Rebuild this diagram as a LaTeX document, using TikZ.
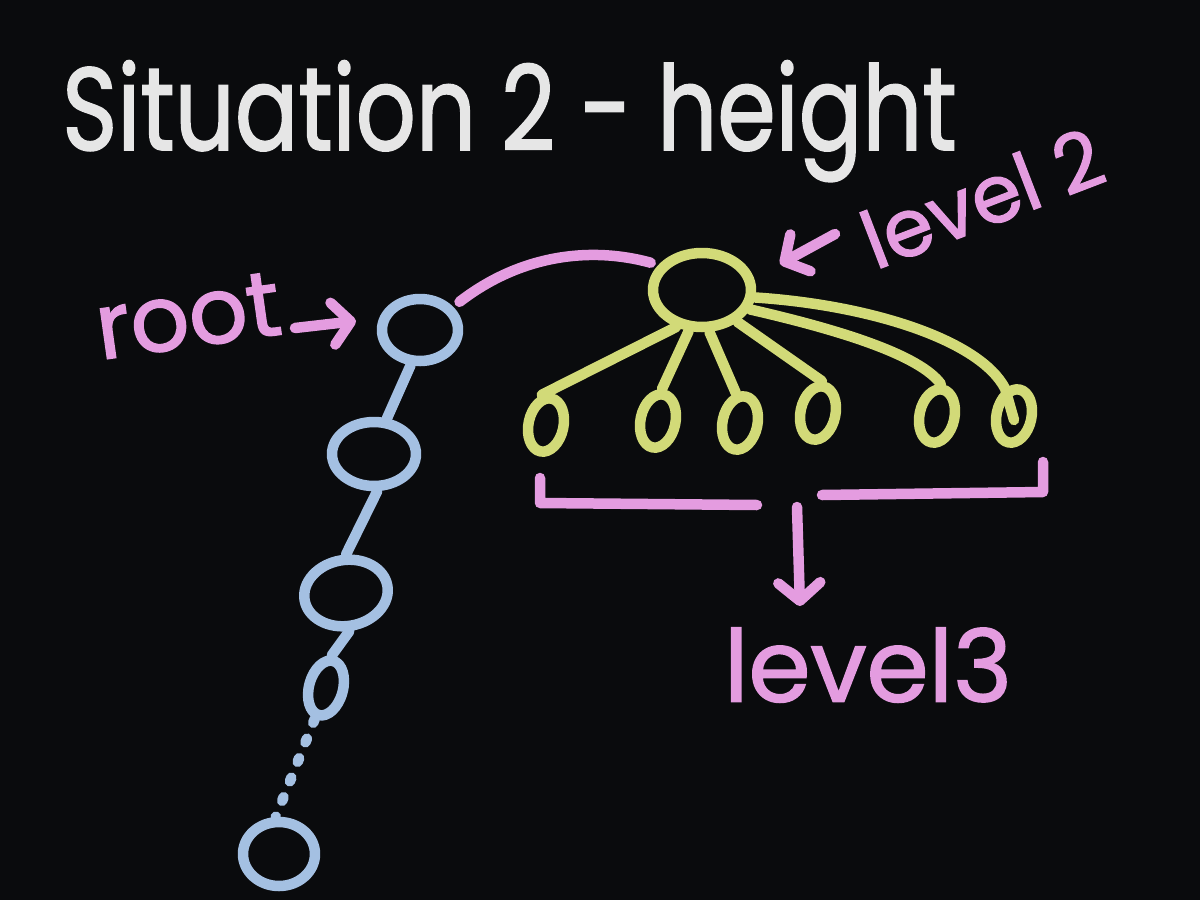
\documentclass[tikz,border=0pt]{standalone}
\usepackage{fontspec}
\setmainfont{Poppins}
\newfontfamily\hand{Poppins}[FakeBold=1.6]
\usetikzlibrary{shapes.geometric,arrows.meta}
\definecolor{bg}{HTML}{0A0B0D}
\definecolor{chalkpink}{RGB}{228,156,224}
\definecolor{chalkblue}{RGB}{164,192,226}
\definecolor{chalkyellow}{RGB}{210,218,120}
\definecolor{chalkwhite}{RGB}{230,230,230}
\begin{document}
\begin{tikzpicture}[x=1pt,y=-1pt,
  stroke/.style={line width=10.5pt,line cap=round,line join=round},
  bnode/.style={ellipse,draw=chalkblue,stroke,inner sep=0pt},
  ynode/.style={ellipse,draw=chalkyellow,stroke,inner sep=0pt},
  ychild/.style={ynode,minimum width=35pt,minimum height=54pt,rotate=-12},
  bline/.style={draw=chalkblue,stroke},
  yline/.style={draw=chalkyellow,stroke},
  pline/.style={draw=chalkpink,stroke},
  parrow/.style={pline,-{Straight Barb[round,length=18pt,width=42pt]}},
  ptext/.style={text=chalkpink,inner sep=0pt},
]
\fill[bg] (0,0) rectangle (1200,900);
\useasboundingbox (0,0) rectangle (1200,900);

% title
\node[anchor=base west,text=chalkwhite,inner sep=0pt,font=\hand\fontsize{94}{94}\selectfont] (title) at (62,150) {\scalebox{1}[1.25]{Situation 2 - height}};

% blue chain
\node[bnode,minimum width=76pt,minimum height=62pt] (root) at (420,330) {};
\node[bnode,minimum width=84pt,minimum height=64pt] (b2) at (374,454) {};
\node[bnode,minimum width=84pt,minimum height=66pt,rotate=10] (b3) at (346,593) {};
\node[bnode,minimum width=34pt,minimum height=56pt,rotate=-15] (b4) at (326,688) {};
\node[bnode,minimum width=72pt,minimum height=64pt] (b5) at (279,854) {};
\draw[bline] (root.255) -- (b2.70);
\draw[bline] (b2.275) -- (b3.80);
\draw[bline] (b3.265) -- (b4.95);
\draw[bline,dash pattern=on 4pt off 17pt] (b4.265) -- (b5.95);

% yellow tree
\node[ynode,minimum width=98pt,minimum height=74pt] (l2) at (702,290) {};
\node[ychild] (c1) at (546,425) {};
\node[ychild] (c2) at (658,421) {};
\node[ychild] (c3) at (740,423) {};
\node[ychild] (c4) at (818,413) {};
\node[ychild] (c5) at (937,416) {};
\node[ychild] (c6) at (1014,416) {};
\draw[yline] (l2.235) -- (c1.110);
\draw[yline] (l2.252) -- (c2.95);
\draw[yline] (l2.280) -- (c3.110);
\draw[yline] (l2.318) -- (c4.95);
\draw[yline] (l2.338) .. controls (840,330) and (920,355) .. (c5.95);
\draw[yline] (l2.352) .. controls (870,305) and (980,340) .. (c6.120) -- (1014,420);

% pink link root -> level 2
\draw[pline,shorten <=8pt,shorten >=8pt] (root.35) .. controls (520,255) and (590,246) .. (l2.150);

% labels
\node[ptext,font=\hand\fontsize{92}{92}\selectfont,rotate=8] (rootlbl) at (188,316) {root};
\coordinate (ra) at (295,328);
\coordinate (rb) at (356,321);
\draw[parrow] (ra) -- (rb);

\node[ptext,font=\hand\fontsize{80}{80}\selectfont,rotate=21] (lvl2) at (982,198) {level 2};
\coordinate (la) at (835,234);
\coordinate (lb) at (780,264);
\draw[parrow] (la) -- (lb);

% bracket and level 3
\coordinate (k1) at (540,478);
\coordinate (k2) at (540,503);
\coordinate (k3) at (757,505);
\coordinate (k4) at (822,495);
\coordinate (k5) at (1043,492);
\coordinate (k6) at (1043,462);
\draw[pline] (k1) -- (k2) -- (k3);
\draw[pline] (k4) -- (k5) -- (k6);
\coordinate (ka) at (797,507);
\coordinate (kb) at (800,606);
\node[ptext,font=\hand\fontsize{100}{100}\selectfont] (lvl3) at (868,665) {level3};
\draw[parrow] (ka) -- (kb);
\end{tikzpicture}
\end{document}
